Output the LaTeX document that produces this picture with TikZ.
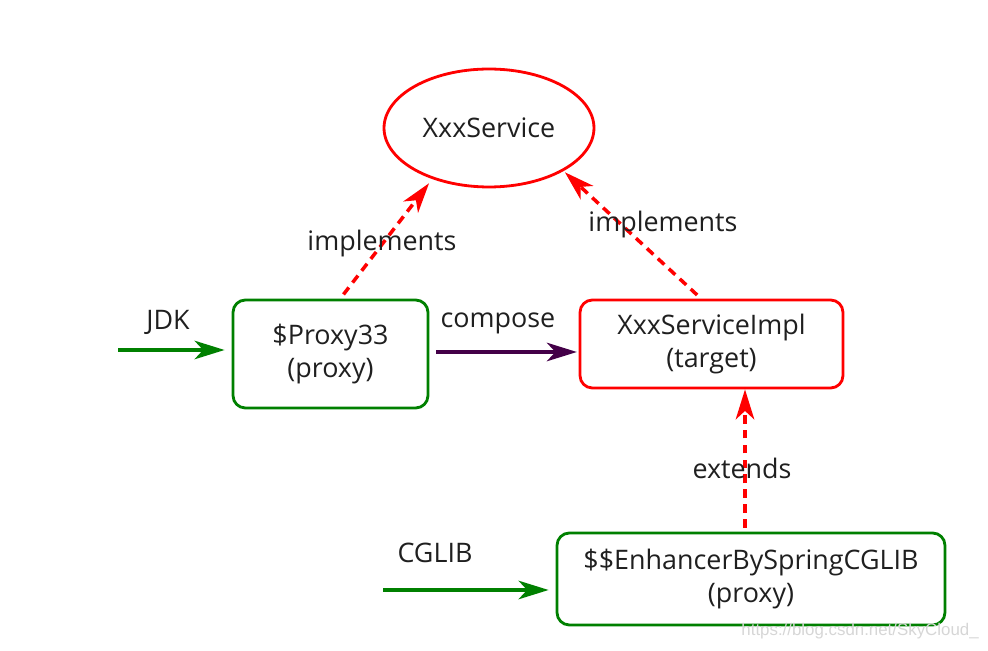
\documentclass[tikz,border=0pt]{standalone}
\usepackage{fontspec}
\setmainfont{Open Sans}
\newfontfamily\markfont{Liberation Sans}
\usetikzlibrary{shapes.geometric,arrows.meta}
\definecolor{proxygreen}{RGB}{0,128,0}
\definecolor{targetred}{RGB}{255,0,0}
\definecolor{composeviolet}{RGB}{68,0,72}

\begin{document}
\begin{tikzpicture}[
    x = 0.02cm,
    y = -0.02cm,
    every node/.style = {
      font = \fontsize{15.3}{18.5}\selectfont,
      align = center,
      text = black!88
    },
    iface/.style = {
      shape = ellipse,
      draw = targetred,
      line width = 1.6pt,
      minimum width = 4.2cm,
      minimum height = 2.36cm
    },
    box/.style = {
      shape = rectangle,
      rounded corners = 7pt,
      line width = 1.6pt
    },
    proxy/.style = {
      box,
      draw = proxygreen
    },
    target/.style = {
      box,
      draw = targetred
    },
    flow/.style = {
      -{Stealth[length = 0.6cm, width = 0.37cm, inset = 0.17cm]},
      line width = 2pt
    },
    dep/.style = {
      flow,
      draw = targetred,
      dash pattern = on 5pt off 3.5pt
    }
  ]
    \useasboundingbox (0, 0) rectangle (988, 651);

    \node[iface] (svc) at (489, 128) {XxxService};

    \node[proxy, minimum width = 3.9cm, minimum height = 2.16cm] (jdkproxy) at (330.5, 354) {\$Proxy33\\(proxy)};
    \node[target, minimum width = 5.26cm, minimum height = 1.76cm] (impl) at (711.5, 344) {XxxServiceImpl\\(target)};
    \node[proxy, minimum width = 7.76cm, minimum height = 1.84cm] (cgproxy) at (751, 579) {\$\$EnhancerBySpringCGLIB\\(proxy)};

    \coordinate (jdkin) at (118, 350);
    \coordinate (cgin) at (383, 590);

    \draw[flow, draw = proxygreen, shorten > = 4pt] (jdkin) -- (jdkin -| jdkproxy.west);
    \draw[flow, draw = proxygreen, shorten > = 4pt] (cgin) -- (cgin -| cgproxy.west);
    \draw[flow, draw = composeviolet, shorten < = 4pt, shorten > = 1pt] (jdkproxy.east |- 0, 352) -- (impl.west |- 0, 352);

    \draw[dep, shorten < = 3pt, shorten > = 3pt] (jdkproxy.80) -- (svc.222);
    \draw[dep, shorten < = 3pt, shorten > = 1pt] (impl.103) -- (svc.330);
    \draw[dep, shorten < = 2pt] ([xshift = -0.12cm]cgproxy.north) -- ([xshift = -0.12cm]cgproxy.north |- impl.south);

    \node (jdklbl) at (168, 322) {JDK};
    \node (cglbl) at (435, 553) {CGLIB};
    \node (composelbl) at (498, 323) {compose};
    \node (impllbl1) at (382, 244) {implements};
    \node (impllbl2) at (663, 225) {implements};
    \node (extlbl) at (742, 468) {extends};

    \node[font = \markfont\fontsize{9.6}{11}\selectfont, text = black!16, anchor = east, inner sep = 0pt] (mark) at (979, 631) {https://blog.csdn.net/SkyCloud\_};
  \end{tikzpicture}
\end{document}
